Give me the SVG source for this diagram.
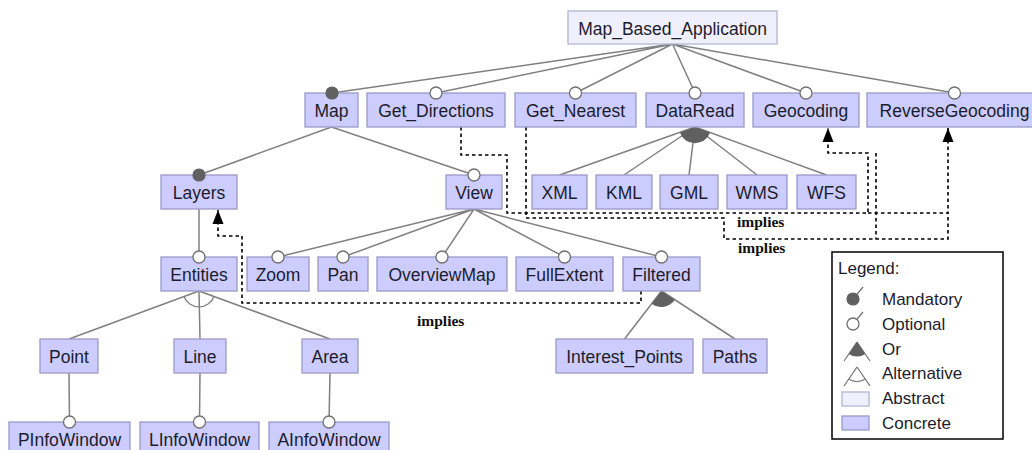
<svg xmlns="http://www.w3.org/2000/svg" width="1032" height="450" viewBox="0 0 1032 450">
  <style>
    .box { stroke: #9a9ac8; stroke-width: 1.3; }
    .concrete { fill: #ccccff; }
    .abstract { fill: #f0f0fc; stroke: #b4b4d4; }
    .lbl { font-family: "Liberation Sans", Arial, sans-serif; font-size: 17.5px; fill: #1c1c2c; text-anchor: middle; }
    .edge { stroke: #808080; stroke-width: 1.5; fill: none; }
    .mand { fill: #606060; stroke: #606060; stroke-width: 1.2; }
    .opt { fill: #ffffff; stroke: #707070; stroke-width: 1.3; }
    .orfill { fill: #606060; stroke: none; }
    .alt { fill: none; stroke: #808080; stroke-width: 1.3; }
    .cons { stroke: #000000; stroke-width: 1.6; stroke-dasharray: 3.5 3; fill: none; }
    .impl { font-family: "Liberation Serif", "Times New Roman", serif; font-weight: bold; font-size: 15.5px; fill: #111111; }
    .legtxt { font-family: "Liberation Sans", Arial, sans-serif; font-size: 17px; fill: #1c1c2c; }
  </style>
  <defs>
    <marker id="arrow" viewBox="0 0 14 12" refX="14" refY="6" markerWidth="14" markerHeight="12" markerUnits="userSpaceOnUse" orient="auto">
      <path d="M0,0.5 L14,6 L0,11.5 Z" fill="#000000" stroke="none"/>
    </marker>
  </defs>
  <rect width="1032" height="450" fill="#ffffff"/>

  <!-- feature tree connectors -->
  <g id="connectors">
    <path class="edge" d="M672.5,44 L332,93 M672.5,44 L436,93 M672.5,44 L575.5,93 M672.5,44 L695,93 M672.5,44 L806,93 M672.5,44 L954.5,93"/>
    <path class="edge" d="M331.5,127 L199,175 M331.5,127 L474,175"/>
    <path class="edge" d="M695,127 L559.5,175 M695,127 L624,175 M695,127 L689,175 M695,127 L757,175 M695,127 L826.5,175"/>
    <path class="edge" d="M199,209 L199,257"/>
    <path class="edge" d="M474,209 L278,257 M474,209 L343,257 M474,209 L442,257 M474,209 L564.5,257 M474,209 L661.5,257"/>
    <path class="edge" d="M199,291 L69,339 M199,291 L200,339 M199,291 L330,339"/>
    <path class="edge" d="M661.5,291 L624.5,339 M661.5,291 L735,339"/>
    <path class="edge" d="M69,373 L69.5,422 M200,373 L199.5,422 M330,373 L329,422"/>

    <!-- group decorations -->
    <path class="orfill" d="M695,127 L679.9,132.4 A16,16 0 0 0 710.1,132.5 Z"/>
    <path class="orfill" d="M661.5,291 L651.7,303.7 A16,16 0 0 0 674.9,299.7 Z"/>
    <path class="alt" d="M184,296.5 A16,16 0 0 0 214,296.5"/>

    <!-- cross-tree constraints -->
    <path class="cons" marker-end="url(#arrow)" d="M641,291 V303 H242 V236 H218 V210"/>
    <path class="cons" marker-end="url(#arrow)" d="M461,127 V155 H507 V213 H868 V153 H828 V128"/>
    <path class="cons" marker-end="url(#arrow)" d="M868,213 H948 V128"/>
    <path class="cons" d="M526,127 V218 H724 V239 H948 V213"/>
    <path class="cons" d="M876,153 V239"/>
    <text class="impl" x="417" y="326">implies</text>
    <text class="impl" x="737" y="227">implies</text>
    <text class="impl" x="738" y="253">implies</text>
  </g>

  <!-- features -->
  <g id="Map_Based_Application"><rect class="box abstract" x="568" y="11" width="209" height="33"/><text class="lbl" x="672.5" y="34.5">Map_Based_Application</text></g>
  <g id="Map"><rect class="box concrete" x="305" y="93" width="53" height="34"/><text class="lbl" x="331.5" y="117">Map</text></g>
  <g id="Get_Directions"><rect class="box concrete" x="367" y="93" width="138" height="34"/><text class="lbl" x="436" y="117">Get_Directions</text></g>
  <g id="Get_Nearest"><rect class="box concrete" x="515" y="93" width="121" height="34"/><text class="lbl" x="575.5" y="117">Get_Nearest</text></g>
  <g id="DataRead"><rect class="box concrete" x="646" y="93" width="98" height="34"/><text class="lbl" x="695" y="117">DataRead</text></g>
  <g id="Geocoding"><rect class="box concrete" x="753" y="93" width="106" height="34"/><text class="lbl" x="806" y="117">Geocoding</text></g>
  <g id="ReverseGeocoding"><rect class="box concrete" x="867" y="93" width="175" height="34"/><text class="lbl" x="954.5" y="117">ReverseGeocoding</text></g>

  <g id="Layers"><rect class="box concrete" x="161" y="175" width="76" height="34"/><text class="lbl" x="199" y="199">Layers</text></g>
  <g id="View"><rect class="box concrete" x="446" y="175" width="56" height="34"/><text class="lbl" x="474" y="199">View</text></g>
  <g id="XML"><rect class="box concrete" x="532" y="175" width="55" height="34"/><text class="lbl" x="559.5" y="199">XML</text></g>
  <g id="KML"><rect class="box concrete" x="596" y="175" width="56" height="34"/><text class="lbl" x="624" y="199">KML</text></g>
  <g id="GML"><rect class="box concrete" x="660" y="175" width="58" height="34"/><text class="lbl" x="689" y="199">GML</text></g>
  <g id="WMS"><rect class="box concrete" x="727" y="175" width="60" height="34"/><text class="lbl" x="757" y="199">WMS</text></g>
  <g id="WFS"><rect class="box concrete" x="797" y="175" width="59" height="34"/><text class="lbl" x="826.5" y="199">WFS</text></g>

  <g id="Entities"><rect class="box concrete" x="161" y="257" width="76" height="34"/><text class="lbl" x="199" y="281">Entities</text></g>
  <g id="Zoom"><rect class="box concrete" x="247" y="257" width="62" height="34"/><text class="lbl" x="278" y="281">Zoom</text></g>
  <g id="Pan"><rect class="box concrete" x="318" y="257" width="50" height="34"/><text class="lbl" x="343" y="281">Pan</text></g>
  <g id="OverviewMap"><rect class="box concrete" x="377" y="257" width="130" height="34"/><text class="lbl" x="442" y="281">OverviewMap</text></g>
  <g id="FullExtent"><rect class="box concrete" x="516" y="257" width="97" height="34"/><text class="lbl" x="564.5" y="281">FullExtent</text></g>
  <g id="Filtered"><rect class="box concrete" x="623" y="257" width="77" height="34"/><text class="lbl" x="661.5" y="281">Filtered</text></g>

  <g id="Point"><rect class="box concrete" x="40" y="339" width="58" height="34"/><text class="lbl" x="69" y="363">Point</text></g>
  <g id="Line"><rect class="box concrete" x="174" y="339" width="52" height="34"/><text class="lbl" x="200" y="363">Line</text></g>
  <g id="Area"><rect class="box concrete" x="302" y="339" width="56" height="34"/><text class="lbl" x="330" y="363">Area</text></g>
  <g id="Interest_Points"><rect class="box concrete" x="556" y="339" width="137" height="34"/><text class="lbl" x="624.5" y="363">Interest_Points</text></g>
  <g id="Paths"><rect class="box concrete" x="703" y="339" width="64" height="34"/><text class="lbl" x="735" y="363">Paths</text></g>

  <g id="PInfoWindow"><rect class="box concrete" x="9" y="422" width="121" height="34"/><text class="lbl" x="69.5" y="446">PInfoWindow</text></g>
  <g id="LInfoWindow"><rect class="box concrete" x="140" y="422" width="119" height="34"/><text class="lbl" x="199.5" y="446">LInfoWindow</text></g>
  <g id="AInfoWindow"><rect class="box concrete" x="269" y="422" width="120" height="34"/><text class="lbl" x="329" y="446">AInfoWindow</text></g>

  <!-- mandatory / optional end markers, drawn over the box edges -->
  <g id="edge-ends">
    <circle class="mand" cx="332" cy="93" r="6"/>
    <circle class="opt" cx="436" cy="93" r="6"/>
    <circle class="opt" cx="575.5" cy="93" r="6"/>
    <circle class="opt" cx="695" cy="93" r="6"/>
    <circle class="opt" cx="806" cy="93" r="6"/>
    <circle class="opt" cx="954.5" cy="93" r="6"/>
    <circle class="mand" cx="199" cy="175" r="6"/>
    <circle class="opt" cx="474" cy="175" r="6"/>
    <circle class="opt" cx="199" cy="257" r="6"/>
    <circle class="opt" cx="278" cy="257" r="6"/>
    <circle class="opt" cx="343" cy="257" r="6"/>
    <circle class="opt" cx="442" cy="257" r="6"/>
    <circle class="opt" cx="564.5" cy="257" r="6"/>
    <circle class="opt" cx="661.5" cy="257" r="6"/>
    <circle class="opt" cx="69.5" cy="422" r="6"/>
    <circle class="opt" cx="199.5" cy="422" r="6"/>
    <circle class="opt" cx="329" cy="422" r="6"/>
  </g>

  <!-- legend -->
  <g id="legend">
    <rect x="832" y="252" width="171" height="187" fill="#ffffff" stroke="#000000" stroke-width="1.5"/>
    <text class="legtxt" x="838" y="274">Legend:</text>
    <line x1="853" y1="299" x2="863" y2="287" stroke="#707070" stroke-width="1.2"/>
    <circle class="mand" cx="853" cy="299" r="6"/>
    <text class="legtxt" x="882" y="305">Mandatory</text>
    <line x1="853" y1="324" x2="863" y2="312" stroke="#707070" stroke-width="1.2"/>
    <circle class="opt" cx="853" cy="324" r="6"/>
    <text class="legtxt" x="882" y="330">Optional</text>
    <path d="M857,342 L844,361 M857,342 L870,361" stroke="#707070" stroke-width="1.2" fill="none"/>
    <path class="orfill" d="M857,342 L848.8,354 A14.5,14.5 0 0 0 865.2,354 Z"/>
    <text class="legtxt" x="882" y="355">Or</text>
    <path d="M857,367 L844,386 M857,367 L870,386" stroke="#707070" stroke-width="1.2" fill="none"/>
    <path class="alt" d="M848.8,379 A14.5,14.5 0 0 0 865.2,379"/>
    <text class="legtxt" x="882" y="379">Alternative</text>
    <rect class="box abstract" x="842" y="392" width="27" height="14"/>
    <text class="legtxt" x="882" y="404">Abstract</text>
    <rect class="box concrete" x="842" y="416" width="27" height="14"/>
    <text class="legtxt" x="882" y="429">Concrete</text>
  </g>
</svg>
